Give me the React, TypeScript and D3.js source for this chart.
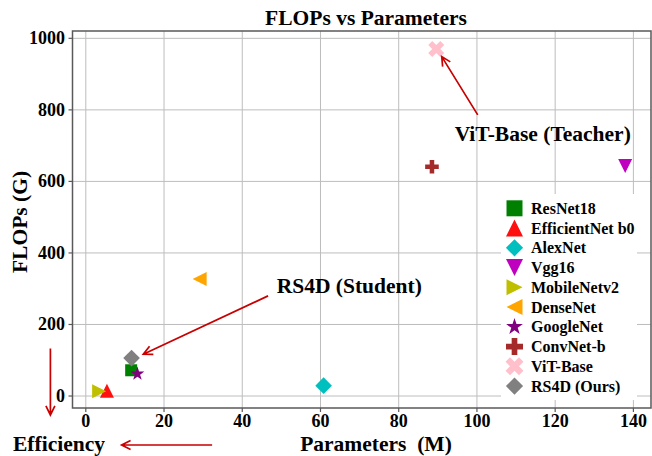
import { useEffect, useRef } from "react";
import * as d3 from "d3";

// models
const MODELS = [
  "ResNet18", "EfficientNet b0", "AlexNet", "Vgg16", "MobileNetv2",
  "DenseNet", "GoogleNet", "ConvNet-b", "ViT-Base", "RS4D (Ours)",
];
const PARAMS_M = [11.6, 5.4, 60.8, 137.9, 3.4, 29.1, 13.2, 88.5, 89.6, 11.7];
const FLOPS_G = [72, 15, 29, 643, 13, 327, 62, 641, 970, 106];
const MARKERS = ["square", "triUp", "diamond", "triDown", "triRight", "triLeft", "star", "plus", "cross", "diamond"];
const COLORS = ["#008000", "#ff1010", "#00bfbf", "#bf00bf", "#bfbf00", "#ffa500", "#800080", "#a52a2a", "#ffc0cb", "#808080"];

const X_TICKS = [0, 20, 40, 60, 80, 100, 120, 140];
const Y_TICKS = [0, 200, 400, 600, 800, 1000];
const X_DOMAIN = [-3.4, 144.5];
const Y_DOMAIN = [-33.5, 1020.5];

// annotations in data coordinates: [x, y]
const NOTE_TEXT = ["ViT-Base (Teacher)", "RS4D (Student)", "Efficiency"];
const NOTE_AT = [[94.3, 712], [48.8, 288], [-18.6, -154]];
const ARROW_FROM = [[100.2, 786], [46.6, 280], [-9.05, 133], [32.3, -137]];
const ARROW_TO = [[91.0, 949], [14.7, 117], [-9.05, -53], [9.15, -137]];

const FONT = "'Liberation Serif', 'Times New Roman', serif";
const RED = "#c80000";

function markerPath(shape: string, r: number): string {
  const p = d3.path();
  const poly = (pts: number[][]) => {
    pts.forEach(([x, y], i) => (i ? p.lineTo(x, y) : p.moveTo(x, y)));
    p.closePath();
  };
  if (shape === "square") poly([[-r, -r], [r, -r], [r, r], [-r, r]]);
  else if (shape === "triUp") poly([[0, -r], [r, r], [-r, r]]);
  else if (shape === "triDown") poly([[0, r], [r, -r], [-r, -r]]);
  else if (shape === "triRight") poly([[r, 0], [-r, -r], [-r, r]]);
  else if (shape === "triLeft") poly([[-r, 0], [r, -r], [r, r]]);
  else if (shape === "diamond") poly([[0, -r], [r, 0], [0, r], [-r, 0]]);
  else if (shape === "star") {
    const pts = d3.range(10).map(i => {
      const a = -Math.PI / 2 + (i * Math.PI) / 5;
      const rr = i % 2 ? r * 0.382 : r;
      return [rr * Math.cos(a), rr * Math.sin(a)];
    });
    poly(pts);
  } else {
    const u = r / 3;
    const base = [[-u, -3 * u], [u, -3 * u], [u, -u], [3 * u, -u], [3 * u, u], [u, u], [u, 3 * u], [-u, 3 * u], [-u, u], [-3 * u, u], [-3 * u, -u], [-u, -u]];
    if (shape === "plus") poly(base);
    else {
      const c = Math.SQRT1_2;
      poly(base.map(([x, y]) => [(x - y) * c, (x + y) * c]));
    }
  }
  return p.toString();
}

const PLOT_R: Record<string, number> = { square: 6, triUp: 7, triDown: 7, triRight: 7, triLeft: 7, diamond: 8.3, star: 7.3, plus: 6.8, cross: 8.5 };
const LEG_R: Record<string, number> = { square: 8, triUp: 8.5, triDown: 8.5, triRight: 8, triLeft: 8, diamond: 8.6, star: 8.8, plus: 8.5, cross: 9.5 };

function drawArrow(g: any, x1: number, y1: number, x2: number, y2: number) {
  const dx = x2 - x1, dy = y2 - y1;
  const len = Math.hypot(dx, dy);
  const ux = dx / len, uy = dy / len;
  const hl = 9, hw = 4.5;
  const bx = x2 - ux * hl, by = y2 - uy * hl;
  g.append("path")
    .attr("d", `M${x1},${y1}L${x2},${y2}M${bx - uy * hw},${by + ux * hw}L${x2},${y2}L${bx + uy * hw},${by - ux * hw}`)
    .attr("fill", "none")
    .attr("stroke", RED)
    .attr("stroke-width", 1.7);
}

function buildChart(svgEl: SVGSVGElement) {
  const svg = d3.select(svgEl);
  svg.selectAll("*").remove();

  const x = d3.scaleLinear().domain(X_DOMAIN).range([72.5, 651]);
  const y = d3.scaleLinear().domain(Y_DOMAIN).range([408, 31]);
  const [left, right] = x.range();
  const [bottom, top] = y.range();

  // grid
  const grid = svg.append("g");
  X_TICKS.forEach(t => {
    grid.append("line").attr("x1", x(t)).attr("x2", x(t)).attr("y1", top).attr("y2", bottom)
      .attr("stroke", "#bdbdbd").attr("stroke-width", 1);
  });
  Y_TICKS.forEach(t => {
    grid.append("line").attr("x1", left).attr("x2", right).attr("y1", y(t)).attr("y2", y(t))
      .attr("stroke", "#bdbdbd").attr("stroke-width", 1);
  });

  // scatter points
  const pts = svg.append("g");
  MODELS.forEach((m, i) => {
    pts.append("path")
      .attr("transform", `translate(${x(PARAMS_M[i])},${y(FLOPS_G[i])})`)
      .attr("d", markerPath(MARKERS[i], PLOT_R[MARKERS[i]]))
      .attr("fill", COLORS[i]);
  });

  // spines + ticks
  svg.append("rect")
    .attr("x", left).attr("y", top).attr("width", right - left).attr("height", bottom - top)
    .attr("fill", "none").attr("stroke", "#595959").attr("stroke-width", 1.5);

  const axisG = svg.append("g").style("font-family", FONT).style("font-weight", "bold");
  X_TICKS.forEach(t => {
    axisG.append("line").attr("x1", x(t)).attr("x2", x(t)).attr("y1", bottom).attr("y2", bottom + 4)
      .attr("stroke", "#595959").attr("stroke-width", 1.2);
    axisG.append("text").attr("x", x(t)).attr("y", 426.5).attr("text-anchor", "middle")
      .style("font-size", "18px").attr("fill", "#000").text(t);
  });
  Y_TICKS.forEach(t => {
    axisG.append("line").attr("x1", left - 4).attr("x2", left).attr("y1", y(t)).attr("y2", y(t))
      .attr("stroke", "#595959").attr("stroke-width", 1.2);
    axisG.append("text").attr("x", 65).attr("y", y(t) + 6).attr("text-anchor", "end")
      .style("font-size", "18px").attr("fill", "#000").text(t);
  });

  // titles
  axisG.append("text").attr("x", 366).attr("y", 25).attr("text-anchor", "middle")
    .style("font-size", "21.5px").text("FLOPs vs Parameters");
  axisG.append("text").attr("x", 376).attr("y", 451).attr("text-anchor", "middle")
    .attr("xml:space", "preserve").style("white-space", "pre")
    .style("font-size", "21.5px").text("Parameters  (M)");
  axisG.append("text").attr("transform", "translate(27,222) rotate(-90)").attr("text-anchor", "middle")
    .style("font-size", "21.5px").text("FLOPs (G)");

  // annotations
  const notes = svg.append("g");
  ARROW_FROM.forEach((f, i) => {
    drawArrow(notes, x(f[0]), y(f[1]), x(ARROW_TO[i][0]), y(ARROW_TO[i][1]));
  });
  NOTE_TEXT.forEach((t, i) => {
    notes.append("text").attr("x", x(NOTE_AT[i][0])).attr("y", y(NOTE_AT[i][1]))
      .style("font-family", FONT).style("font-weight", "bold").style("font-size", "21.5px")
      .attr("fill", "#000").text(t);
  });

  // legend
  const leg = svg.append("g");
  leg.append("rect").attr("x", 501).attr("y", 194).attr("width", 136).attr("height", 206)
    .attr("rx", 3).attr("fill", "#fff");
  MODELS.forEach((m, i) => {
    const cy = 208.3 + i * 19.75;
    leg.append("path")
      .attr("transform", `translate(514.5,${cy})`)
      .attr("d", markerPath(MARKERS[i], LEG_R[MARKERS[i]]))
      .attr("fill", COLORS[i]);
    leg.append("text").attr("x", 531).attr("y", cy + 5.5)
      .style("font-family", FONT).style("font-weight", "bold").style("font-size", "16px")
      .attr("fill", "#000").text(m);
  });
}

export default function App() {
  const svgRef = useRef<SVGSVGElement>(null);
  useEffect(() => {
    if (svgRef.current) buildChart(svgRef.current);
  }, []);
  return (
    <svg
      ref={svgRef}
      width={652}
      height={456}
      style={{ position: "absolute", left: 0, top: 0, background: "#fff", display: "block" }}
    />
  );
}
